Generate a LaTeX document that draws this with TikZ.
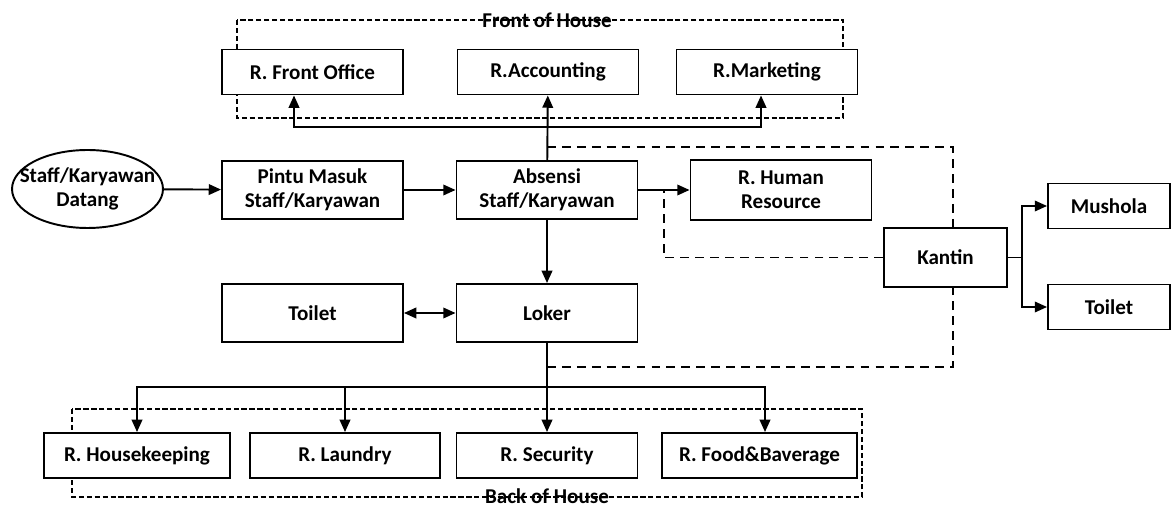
\documentclass[tikz,border=0pt]{standalone}
\usepackage{fontspec}
\setmainfont{Carlito}
\usetikzlibrary{shapes.geometric,arrows.meta}
\begin{document}
\begin{tikzpicture}[x=0.02cm,y=-0.02cm,
        every node/.style={font=\fontsize{12}{13.5}\selectfont\bfseries,align=center,inner sep=1pt},
        room/.style={draw,fill=white,line width=1.1pt,minimum width=3.62cm,minimum height=1.16cm},
        flat/.style={room,minimum height=0.9cm},
        arr/.style={line width=1.1pt,-{Triangle[length=7pt,width=6pt]}},
        line/.style={line width=1.1pt},
        frame/.style={line width=0.9pt,dash pattern=on 3pt off 1.5pt},
        conn/.style={line width=1.1pt,dash pattern=on 5pt off 3.5pt}]
                \useasboundingbox (0,0) rectangle (1172,509);

                % front of house
                \draw[frame] (237,20) rectangle (843,118);
                \node (foh) at (547,20) {Front of House};
                \node[flat] (fo) at (312.5,72) {R. Front Office};
                \node[flat] (acc) at (548,72) {R.Accounting};
                \node[flat] (mkt) at (767,72) {R.Marketing};

                % entrance row
                \node[draw,ellipse,line width=1.1pt,minimum width=3.02cm,minimum height=1.56cm] (dtg) at (87.5,189) {};
                \node (dtgtxt) at (dtg) {Staff/Karyawan\\Datang};
                \node[room] (pintu) at (312.5,190) {Pintu Masuk\\Staff/Karyawan};
                \node[room] (abs) at (547,190) {Absensi\\Staff/Karyawan};
                \node[room,minimum height=1.2cm] (hr) at (781,190) {R. Human\\Resource};

                % kantin
                \node[room,minimum width=2.46cm,minimum height=1.18cm] (kantin) at (945.5,257.5) {Kantin};
                \node[flat,minimum width=2.44cm] (mushola) at (1109,206) {Mushola};
                \node[flat,minimum width=2.44cm] (toiletr) at (1109,307) {Toilet};

                % loker row
                \node[room] (toiletl) at (312.5,313) {Toilet};
                \node[room] (loker) at (547,313) {Loker};

                % back of house
                \draw[frame] (72,409) rectangle (862,497);
                \node (boh) at (547,496) {Back of House};
                \node[flat,minimum width=3.72cm] (hk) at (137,455.5) {R. Housekeeping};
                \node[flat,minimum width=3.8cm] (laundry) at (345,455.5) {R. Laundry};
                \node[flat] (security) at (547,455.5) {R. Security};
                \node[flat,minimum width=3.9cm] (fb) at (759.5,455.5) {R. Food\&Baverage};

                \coordinate (ftop) at (547,127);
                \coordinate (bjoin) at (547,387);
                \coordinate (kjoin) at (1022,257.5);
                \coordinate (dtop) at (547,147);
                \coordinate (dbot) at (547,367);
                \coordinate (dhr) at (664,190);

                \draw[arr] (dtg) -- (pintu);
                \draw[arr] (pintu) -- (abs);
                \draw[arr] (abs) -- (hr);
                \draw[arr] (abs) -- (acc);
                \draw[arr] (ftop) -| ([xshift=-0.37cm]fo.south);
                \draw[arr] (ftop) -| ([xshift=-0.12cm]mkt.south);
                \draw[arr] (abs) -- (loker);
                \draw[line,{Triangle[length=7pt,width=6pt]}-{Triangle[length=7pt,width=6pt]}] (toiletl) -- (loker);
                \draw[arr] (loker) -- (security);
                \draw[arr] (bjoin) -| (hk);
                \draw[arr] (bjoin) -| (laundry);
                \draw[arr] (bjoin) -| ([xshift=0.11cm]fb.north);
                \draw[line] (kantin) -- (kjoin);
                \draw[arr] (kjoin) |- (mushola);
                \draw[arr] (kjoin) |- (toiletr);

                \draw[conn] (dtop) -| ([xshift=0.15cm]kantin.north);
                \draw[conn] (dbot) -| ([xshift=0.15cm]kantin.south);
                \draw[conn] (kantin.west) -| (dhr);
            \end{tikzpicture}
\end{document}
